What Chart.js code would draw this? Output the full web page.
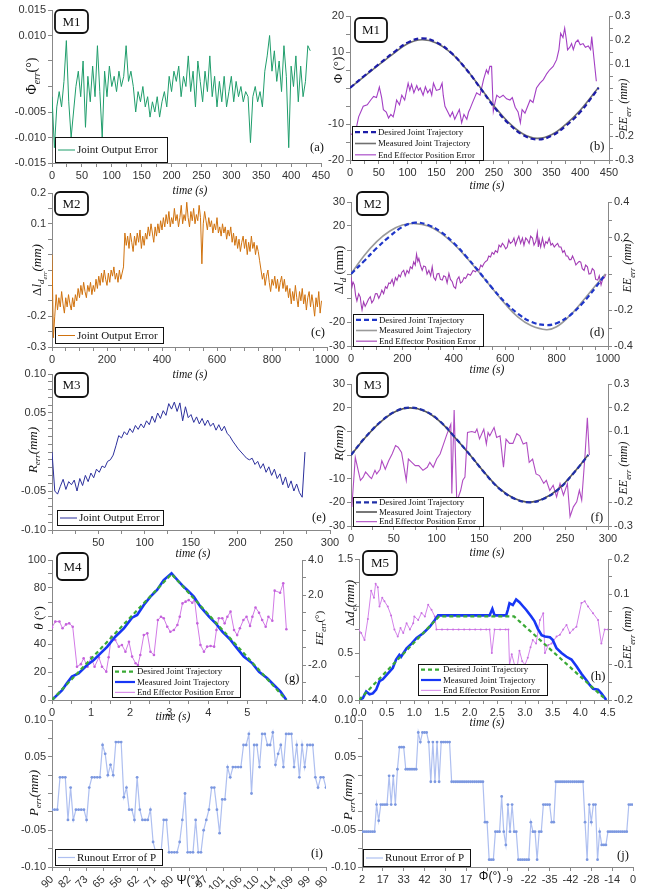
<!DOCTYPE html>
<html>
<head>
<meta charset="utf-8">
<script src="https://cdn.jsdelivr.net/npm/chart.js@4.4.1/dist/chart.umd.min.js"></script>
<style>
html, body { margin: 0; padding: 0; background: #fff; }
body { width: 661px; height: 889px; position: relative; overflow: hidden; }
canvas { position: absolute; }
</style>
</head>
<body>
<script>
// ---- data ----
// (a) M1 joint output error, one value every 4 s
const aStep = 4;
const aVals = [-0.002,-0.012,-0.004,-0.001,-0.004,0.001,0.009,-0.003,-0.010,-0.005,
  0.000,0.003,-0.002,0.005,-0.008,0.002,-0.003,0.004,-0.002,0.008,
  -0.001,-0.010,0.003,-0.002,0.004,0.000,0.002,-0.001,0.003,0.000,
  0.002,0.008,0.001,0.003,0.000,-0.005,-0.001,-0.003,0.000,-0.004,
  -0.002,-0.006,-0.003,-0.005,-0.002,-0.006,-0.003,-0.001,-0.004,0.002,
  -0.001,0.003,0.001,0.004,-0.002,0.002,0.000,0.006,-0.001,0.003,
  -0.004,0.005,0.001,-0.003,0.003,-0.001,0.006,-0.002,0.002,-0.004,
  0.001,-0.003,0.002,-0.004,-0.001,0.002,-0.003,0.001,-0.002,0.000,
  -0.003,-0.001,-0.002,-0.011,-0.002,0.000,-0.003,-0.001,-0.004,0.003,
  0.006,0.010,0.003,0.007,0.001,0.005,-0.001,0.008,0.002,-0.012,
  0.004,0.000,0.006,-0.003,0.004,-0.002,0.001,0.008,0.007];

// (b) M1 trajectories (deg) and end effector error (mm)
const bTime = [0,25,50,75,100,125,150,175,200,225,250,275,300,325,350,375,400,432];
const bDesired = [0,3.4,6.6,9.8,12.6,13.8,12.7,9.9,5.6,0.3,-5.2,-9.8,-13.0,-14.3,-13.3,-10.5,-6.7,0];
const bMeasured = [0,3.2,6.4,9.5,12.3,13.4,12.5,9.8,5.6,0.4,-4.9,-9.5,-12.7,-14.0,-13.0,-10.1,-6.2,0.2];
const bEE = [[1,-0.19],[8,-0.2],[15,-0.12],[23,-0.076],[30,-0.07],[36,-0.05],[41,-0.035],[46,-0.04],[51,0.004],[55,-0.04],
  [58,-0.09],[63,-0.1],[67,-0.125],[71,-0.11],[75,-0.12],[78,-0.09],[81,-0.05],[86,-0.07],[90,-0.03],[95,-0.05],
  [101,0.02],[104,-0.01],[107,0.015],[111,-0.02],[116,0.01],[119,-0.01],[122,0],[127,-0.03],[131,0.005],[135,-0.02],
  [139,-0.005],[142,-0.03],[145,0.02],[150,-0.01],[156,-0.005],[160,0.02],[162,-0.03],[165,-0.076],[170,-0.1],[174,-0.12],
  [178,-0.1],[182,-0.13],[185,-0.115],[190,-0.09],[194,-0.145],[198,-0.11],[203,-0.13],[206,-0.1],[208,-0.09],[213,-0.06],
  [220,-0.02],[226,-0.03],[232,0.035],[237,0.076],[240,0.06],[243,0.09],[246,0.09],[249,-0.097],[252,-0.06],[255,-0.03],
  [260,-0.04],[266,-0.03],[272,-0.045],[278,-0.05],[282,-0.04],[287,-0.08],[292,-0.1],[296,-0.145],[299,-0.09],[304,-0.105],
  [308,-0.08],[313,-0.05],[318,-0.06],[324,0],[330,0.02],[336,0.035],[342,0.06],[347,0.076],[353,0.09],[359,0.118],
  [363,0.16],[366,0.228],[370,0.21],[373,0.249],[376,0.2],[378,0.159],[382,0.17],[385,0.185],[388,0.16],[392,0.19],
  [396,0.2],[400,0.18],[405,0.185],[409,0.17],[414,0.175],[418,0.16],[420,0.214],[424,0.12],[428,0.028]];

// (c) M2 joint output error, one value every 5 s
const cStep = 5;
const cVals = [0.00,-0.27,-0.20,-0.13,-0.18,-0.14,-0.17,-0.12,-0.16,-0.19,
  -0.14,-0.17,-0.13,-0.16,-0.18,-0.14,-0.17,-0.13,-0.15,-0.11,
  -0.14,-0.10,-0.13,-0.09,-0.12,-0.14,-0.10,-0.12,-0.09,-0.13,
  -0.10,-0.12,-0.08,-0.11,-0.07,-0.10,-0.06,-0.09,-0.05,-0.08,
  -0.10,-0.06,-0.09,-0.05,-0.07,-0.04,-0.08,-0.06,-0.09,-0.05,
  -0.08,-0.06,-0.04,0.07,0.03,0.06,0.02,0.07,0.04,0.01,
  0.06,0.03,0.07,0.04,0.08,0.02,0.06,0.03,0.07,0.05,
  0.09,0.06,0.10,0.07,0.04,0.09,0.06,0.10,0.07,0.11,
  0.08,0.12,0.09,0.13,0.10,0.14,0.09,0.12,0.10,0.15,
  0.11,0.13,0.09,0.12,0.16,0.10,0.13,0.11,0.17,0.12,
  0.09,0.14,0.11,0.15,0.10,0.13,0.11,0.16,0.12,-0.03,
  0.10,0.14,0.11,0.08,0.12,0.09,0.11,0.07,0.10,0.08,
  0.12,0.07,0.09,0.06,0.10,0.07,0.09,0.05,0.08,0.06,
  0.09,0.04,0.07,0.03,0.06,0.02,0.05,0.01,0.04,0.06,
  0.02,0.05,0.00,0.04,0.01,0.06,0.02,0.04,0.00,0.03,
  0.01,-0.02,-0.05,-0.08,-0.06,-0.10,-0.07,-0.05,-0.09,-0.12,
  -0.08,-0.10,-0.07,-0.11,-0.08,-0.12,-0.09,-0.07,-0.11,-0.08,
  -0.12,-0.10,-0.14,-0.11,-0.16,-0.12,-0.15,-0.10,-0.14,-0.17,
  -0.12,-0.15,-0.11,-0.16,-0.13,-0.18,-0.14,-0.12,-0.17,-0.13,
  -0.16,-0.20,-0.14,-0.17,-0.12,-0.19,-0.15];

// (d) M2 trajectories (mm) and end effector error (mm)
const dTime = [0,50,100,150,200,250,300,350,400,450,500,550,600,650,700,760,800,850,900,950,990];
const dDesired = [0,5.3,10.8,15.6,19.6,21.4,20.4,17.5,12.9,7.1,0.7,-5.9,-11.8,-16.6,-19.9,-21.3,-20.5,-17.4,-12.3,-5.8,0];
const dMeasured = [0,7.5,13.5,17.8,20.4,21.0,20.0,17.0,12.5,6.8,0.5,-6.0,-12.5,-18.0,-21.5,-23.2,-22.0,-17.5,-11.5,-5.0,0];
const dEE = [[0,-0.016],[4,-0.07],[8,-0.045],[13,-0.06],[18,-0.12],[23,-0.15],[30,-0.11],[36,-0.128],[40,-0.175],[43,-0.2],
  [49,-0.155],[55,-0.18],[62,-0.16],[68,-0.14],[75,-0.126],[81,-0.16],[88,-0.145],[95,-0.11],[101,-0.109],[108,-0.135],
  [114,-0.117],[120,-0.09],[127,-0.109],[134,-0.07],[140,-0.08],[147,-0.05],[153,-0.053],[160,-0.03],[166,-0.062],[173,-0.02],
  [179,-0.035],[186,-0.005],[192,-0.016],[198,0.01],[205,0.02],[211,-0.01],[218,0.02],[225,0.005],[231,0.04],[238,0.03],
  [244,0.067],[250,0.05],[255,0.11],[260,0.07],[264,0.086],[270,0.05],[277,0.02],[283,0.045],[290,0.04],[296,0],
  [303,0.02],[310,-0.01],[316,0.04],[322,-0.02],[329,-0.034],[335,0],[342,0.003],[348,-0.03],[355,-0.034],[361,-0.01],
  [368,-0.016],[374,-0.05],[381,0.003],[387,-0.03],[394,-0.043],[400,-0.07],[407,-0.08],[413,-0.03],[420,-0.016],[426,-0.05],
  [433,-0.043],[440,-0.02],[446,-0.025],[455,0],[465,-0.007],[475,0.02],[485,0.012],[492,0.03],[498,0.02],[505,0.05],
  [511,0.04],[518,0.06],[524,0.07],[530,0.075],[536,0.1],[543,0.095],[549,0.12],[556,0.11],[562,0.13],[570,0.12],
  [576,0.16],[583,0.15],[589,0.17],[595,0.16],[602,0.14],[608,0.15],[614,0.19],[620,0.17],[628,0.18],[634,0.2],
  [640,0.16],[647,0.19],[653,0.21],[660,0.17],[667,0.2],[673,0.16],[680,0.2],[686,0.19],[693,0.17],[699,0.21],
  [706,0.2],[712,0.16],[719,0.18],[725,0.23],[729,0.15],[732,0.19],[738,0.15],[745,0.2],[752,0.15],[758,0.18],
  [764,0.17],[771,0.2],[778,0.16],[784,0.17],[791,0.15],[797,0.16],[804,0.17],[810,0.15],[817,0.15],[824,0.12],
  [830,0.13],[837,0.1],[843,0.1],[850,0.08],[856,0.08],[862,0.1],[869,0.077],[875,0.05],[881,0.06],[888,0.07],
  [894,0.066],[900,0.03],[907,0.02],[913,0.05],[920,0.04],[926,0],[933,0.003],[939,0.03],[946,0.02],[952,-0.03],
  [960,-0.034],[966,-0.01],[973,-0.06],[979,-0.03],[986,-0.02],[992,0]];

// (e) M3 joint output error, one value every 3 s
const eStep = 3;
const eVals = [0.000,-0.050,-0.054,-0.044,-0.035,-0.048,-0.038,-0.042,-0.036,-0.050,
  -0.034,-0.043,-0.030,-0.038,-0.027,-0.033,-0.022,-0.026,-0.018,-0.020,
  -0.012,-0.010,-0.004,0.008,0.021,0.018,0.026,0.022,0.030,0.025,
  0.034,0.029,0.036,0.031,0.040,0.035,0.046,0.038,0.050,0.043,
  0.053,0.047,0.062,0.055,0.064,0.052,0.063,0.040,0.058,0.044,
  0.048,0.038,0.045,0.036,0.043,0.034,0.041,0.033,0.037,0.028,
  0.035,0.027,0.033,0.024,0.020,0.014,0.009,0.004,0.000,-0.004,
  -0.008,-0.010,-0.008,-0.016,-0.012,-0.021,-0.015,-0.026,-0.019,-0.030,
  -0.022,-0.034,-0.028,-0.042,-0.032,-0.046,-0.037,-0.050,-0.041,-0.052,
  -0.058,0.000];

// (f) M3 trajectories (mm) and end effector error (mm)
const fTime = [0,17,35,52,69,87,104,121,139,156,173,191,208,225,243,260,277];
const fDesired = [0,7.6,14.2,18.5,20,18.5,14.2,7.6,0,-7.6,-14.2,-18.5,-20,-18.5,-14.2,-7.6,0];
const fMeasured = [0,7.5,14.1,18.4,19.9,18.4,14.1,7.5,0,-7.5,-14.1,-18.4,-19.9,-18.4,-14.1,-7.5,0.1];
const fEE = [[1,-0.22],[5,-0.01],[11,-0.107],[14,-0.095],[17,-0.072],[19,-0.08],[22,-0.093],[24,-0.1],[28,-0.065],[30,-0.08],
  [34,-0.06],[36,-0.024],[40,-0.06],[44,-0.024],[48,0.004],[52,0.04],[55,0.033],[59,0.011],[64.5,-0.107],[67,-0.017],
  [71,-0.031],[75,-0.045],[79,-0.045],[84,-0.065],[89,-0.052],[92,-0.031],[96,-0.052],[100,-0.017],[104,0.004],[108,0.046],
  [112,0.088],[116.5,0.13],[117.7,-0.163],[120.4,0.19],[123.5,-0.2],[125.4,-0.177],[128,-0.15],[130.5,-0.107],[133,-0.093],[136,0.095],
  [141,0.099],[145,0.095],[147,0.11],[150,0.068],[155,0.109],[158,0.046],[160,0.095],[162,0.081],[167,0.116],[170,0.074],
  [174,0.081],[178,-0.052],[181,0.067],[185,0.049],[189,0.049],[193.5,0.09],[197,0.081],[201,0.046],[205,0.053],[208,-0.031],
  [212,-0.017],[216,-0.08],[220,-0.087],[225,-0.12],[228,-0.107],[232,-0.15],[236,-0.128],[240,-0.177],[244,-0.121],[248,-0.17],
  [252.6,-0.121],[255.7,-0.26],[259.6,-0.219],[263.5,-0.198],[266.6,-0.149],[269.3,-0.191],[273.2,0],[275.9,0.157],[278.2,0]];

// (g) M4 trajectories (deg) and end effector error (deg)
const gDesired = [[0,0],[3.06,90],[6.0,0]];
const gMeasured = [[0,0],[0.26,7.1],[0.38,11.9],[0.51,16.7],[0.68,19],[0.9,25],[1.07,28.6],[1.24,33.3],[1.41,38],[1.62,45.2],
  [1.84,51.2],[2.05,58.8],[2.18,60.7],[2.35,67.9],[2.52,73.8],[2.69,78.6],[2.86,85.7],[3.06,90.5],[3.21,85.7],[3.33,82],
  [3.46,78.6],[3.63,73.8],[3.8,66.7],[4.02,59.5],[4.19,54.8],[4.36,48.8],[4.57,42.9],[4.74,36.9],[4.91,31],[5.13,26.2],
  [5.3,20.2],[5.51,15.5],[5.68,10.7],[5.85,6],[6.0,0]];
const gEE = [[0,0.15],[0.085,0.48],[0.19,0.48],[0.27,0.1],[0.36,0.32],[0.44,0.38],[0.53,0.19],[0.64,-2.1],[0.74,-1.95],[0.81,-1.62],
  [0.91,-2.1],[1.0,-1.56],[1.09,-2.1],[1.2,-1.56],[1.28,-2.1],[1.39,-2.38],[1.45,-1.56],[1.52,-0.38],[1.62,-0.57],[1.71,-0.95],
  [1.79,-0.86],[1.88,-1.24],[1.97,-0.67],[2.05,-1.52],[2.14,-1.9],[2.2,-2.0],[2.26,-1.43],[2.35,-0.29],[2.44,-0.19],[2.52,-1.24],
  [2.61,-1.43],[2.71,0.57],[2.79,0.76],[2.86,0.67],[2.95,0.19],[3.03,-0.1],[3.12,0],[3.21,0.29],[3.27,0.76],[3.34,1.52],
  [3.42,1.62],[3.5,1.71],[3.59,1.56],[3.65,1.71],[3.72,0.38],[3.8,-0.86],[3.89,-1.24],[3.97,-0.95],[4.06,-0.91],[4.15,-0.95],
  [4.21,0],[4.27,0.67],[4.36,0.67],[4.42,0.38],[4.49,0.76],[4.57,1.05],[4.66,0],[4.74,-0.29],[4.81,0.1],[4.9,0.57],
  [4.98,0.76],[5.07,0.23],[5.13,0.76],[5.21,1.29],[5.3,0.99],[5.38,0.57],[5.47,0.19],[5.54,0.76],[5.64,0.53],[5.7,2.25],
  [5.84,2.13],[5.92,2.67],[6.0,0.04]];

// (h) M5 trajectories (mm) and end effector error (mm)
const hDesired = [[0,0],[1.45,0.89],[2.8,0.89],[4.47,0]];
const hMeasured = [[0,0],[0.07,0.02],[0.13,0.09],[0.19,0.06],[0.25,0.07],[0.31,0.11],[0.37,0.2],[0.43,0.22],[0.52,0.28],[0.61,0.34],
  [0.67,0.43],[0.73,0.48],[0.76,0.46],[0.86,0.55],[0.95,0.6],[1.04,0.66],[1.16,0.71],[1.28,0.78],[1.37,0.85],[1.43,0.9],
  [2.36,0.9],[2.41,0.97],[2.45,0.9],[2.66,0.9],[2.69,0.96],[2.72,1.03],[2.78,1.01],[2.84,1.07],[2.9,1.04],[2.96,1.0],
  [3.02,0.96],[3.11,0.89],[3.17,0.84],[3.23,0.76],[3.3,0.69],[3.36,0.675],[3.45,0.668],[3.5,0.64],[3.57,0.55],[3.66,0.5],
  [3.75,0.46],[3.84,0.43],[3.93,0.36],[4.02,0.28],[4.11,0.21],[4.17,0.16],[4.23,0.12],[4.32,0.11],[4.38,0.07],[4.47,0]];
const hEE = [[0,-0.001],[0.04,-0.01],[0.1,-0.03],[0.16,0.03],[0.22,0.11],[0.27,0.09],[0.3,0.13],[0.34,0.12],[0.37,0.065],[0.42,0.09],
  [0.46,0.08],[0.52,0.065],[0.58,0.04],[0.64,0],[0.7,-0.02],[0.75,0.004],[0.8,-0.01],[0.86,0.018],[0.92,0],[0.98,0.018],
  [1.0,0.037],[1.07,0.027],[1.13,0.047],[1.19,0.037],[1.25,0.07],[1.31,0.056],[1.37,0.037],[1.4,0],[1.5,0],[1.6,0],
  [1.7,0],[1.8,0],[1.9,0],[2.0,0],[2.1,0],[2.2,0],[2.3,0],[2.36,0],[2.4,-0.067],[2.45,0],
  [2.55,0],[2.65,0],[2.7,0],[2.72,-0.1],[2.76,-0.07],[2.81,-0.1],[2.86,-0.105],[2.9,-0.06],[2.95,-0.09],[3.0,-0.1],
  [3.05,-0.08],[3.1,-0.05],[3.14,-0.03],[3.2,-0.04],[3.27,0.027],[3.33,0.046],[3.36,-0.067],[3.42,-0.044],[3.48,-0.04],[3.57,-0.02],
  [3.63,-0.015],[3.69,0],[3.75,0.013],[3.81,-0.01],[3.87,0],[3.93,0.008],[4.02,0.075],[4.08,0.08],[4.14,0.065],[4.23,0.046],
  [4.32,0.027],[4.38,-0.04],[4.44,0],[4.5,0]];

// (i) runout error of P vs psi (evenly spaced samples over 16 label intervals)
const iLabels = ['90','82','73','65','56','62','71','80','','97','101','106','110','114','109','99','90'];
const iVals = [-0.022,-0.022,-0.022,0.022,0.022,0.022,-0.036,0.008,-0.036,-0.022,
  -0.022,-0.022,-0.022,-0.036,0.008,0.022,0.022,0.022,0.022,0.066,
  0.054,0.025,0.039,0.025,0.07,0.07,0.07,-0.005,0.008,-0.022,
  -0.022,-0.036,0.022,-0.022,-0.036,-0.036,-0.036,-0.022,-0.066,-0.08,
  -0.08,-0.08,-0.036,-0.036,-0.08,-0.08,-0.08,-0.08,-0.066,-0.036,
  0,-0.08,-0.08,-0.08,-0.036,-0.08,-0.08,-0.05,-0.036,-0.022,
  0.008,0.008,-0.022,-0.054,-0.008,-0.008,0.036,0.022,0.036,0.036,
  0.036,0.036,0.066,0.066,0.081,0,0.066,0.066,0.036,0.081,
  0.081,0.066,0.066,0.083,0.039,0.054,0.066,0.036,0.081,0.081,
  0.081,0.036,0.066,0.022,0.066,0.036,0.066,0.066,0.066,0.022,
  0.008,0.022,0.022,0.008];

// (j) runout error of P vs phi, one sample every 0.1 label interval
const jLabels = ['2','17','33','42','30','17','','-9','-22','-35','-42','-28','-14','0'];
const jStep = 0.1;
const jVals = [-0.052,-0.052,-0.052,-0.052,-0.052,-0.052,-0.052,-0.015,-0.037,-0.015,
  -0.015,-0.015,-0.015,0.024,-0.015,0.024,-0.015,0.033,0.063,0.063,
  0.063,0.033,0.033,0.033,0.033,0.033,0.033,0.083,0.07,0.083,
  0.083,0.083,0.07,0.016,0.07,0.016,0.07,0.016,0.07,0.07,
  0.07,0.07,0.07,0.016,0.016,0.016,0.016,0.016,0.016,0.016,
  0.016,0.016,0.016,0.016,0.016,0.016,0.016,0.016,0.016,-0.039,
  -0.039,-0.09,-0.09,-0.09,-0.052,-0.052,-0.052,-0.004,-0.052,-0.07,
  -0.015,-0.052,-0.015,-0.052,-0.052,-0.09,-0.09,-0.09,-0.09,-0.09,
  -0.09,-0.039,-0.052,-0.052,-0.09,-0.052,-0.052,-0.015,-0.015,-0.015,
  -0.015,-0.039,-0.039,0.016,0.016,0.016,0.016,0.016,0.016,0.016,
  0.016,0.016,0.016,0.016,0.016,0.016,0.016,-0.039,-0.09,-0.015,
  -0.039,-0.015,-0.015,-0.09,-0.052,-0.07,-0.07,-0.07,-0.052,-0.052,
  -0.052,-0.052,-0.052,-0.052,-0.052,-0.052,-0.052,-0.052,-0.015,-0.015,
  -0.015];

// ---- helpers ----
const SERIF = '"Liberation Serif", "Times New Roman", serif';
const SANS = '"Liberation Sans", Arial, sans-serif';
const ML = 50, MR = 46, MT = 14, MB = 42;

const pairs = arr => arr.map(([x, y]) => ({ x, y }));
const zip = (xs, ys) => xs.map((x, i) => ({ x, y: ys[i] }));
const stepped = (vals, step) => vals.map((v, i) => ({ x: i * step, y: v }));

function fmt(v, d) { return (Math.abs(v) < 1e-9 ? 0 : v).toFixed(d); }
function has(list, v, step) { return list.some(l => Math.abs(l - v) < step * 0.01); }

function yAxis(pos, min, max, step, labels, digits) {
  return {
    type: 'linear', position: pos, min, max,
    ticks: { stepSize: step, autoSkip: false, padding: 2, color: '#333', font: { family: SANS, size: 11 },
      callback: v => has(labels, v, step) ? fmt(v, digits) : '' },
    grid: { drawOnChartArea: false, tickLength: 4, color: '#888' },
    border: { color: '#888' },
    afterFit: s => { s.width = pos === 'left' ? ML : MR; }
  };
}
function xAxis(min, max, step, labels, digits, names, rot) {
  return {
    type: 'linear', position: 'bottom', min, max,
    ticks: { stepSize: step, autoSkip: false, padding: 2, color: '#333', font: { family: SANS, size: 11 },
      minRotation: rot || 0, maxRotation: rot || 0,
      callback: v => names ? (names[Math.round(v)] || '') : (has(labels, v, step) ? fmt(v, digits) : '') },
    grid: { drawOnChartArea: false, tickLength: 4, color: '#888' },
    border: { color: '#888' },
    afterFit: s => { s.height = MB; }
  };
}
function line(data, color, width, extra) {
  return Object.assign({ data, borderColor: color, backgroundColor: color, borderWidth: width,
    pointRadius: 0, fill: false, tension: 0 }, extra || {});
}

function rich(c, T) {
  const size = T.size || 13, fam = T.fam || SERIF;
  const segs = T.parts.map(([s, k]) => {
    const sz = k === 's' ? size * 0.68 : k === 'ss' ? size * 0.5 : size;
    const it = k === 'i' || k === 's' || k === 'ss';
    const dy = k === 's' ? size * 0.3 : k === 'ss' ? size * 0.5 : 0;
    return { s, font: (it ? 'italic ' : '') + sz + 'px ' + fam, dy };
  });
  let w = 0;
  segs.forEach(g => { c.font = g.font; g.w = c.measureText(g.s).width; w += g.w; });
  c.save();
  c.translate(T.x, T.y);
  if (T.rot) c.rotate(-Math.PI / 2);
  c.fillStyle = '#111';
  c.textBaseline = 'alphabetic';
  c.textAlign = 'left';
  let x = -w / 2;
  segs.forEach(g => { c.font = g.font; c.fillText(g.s, x, size * 0.35 + g.dy); x += g.w; });
  c.restore();
}

const overlay = {
  id: 'overlay',
  afterDraw(chart) {
    const cv = chart.canvas, p = cv._spec, c = chart.ctx;
    c.save();
    c.translate(-cv._off[0], -cv._off[1]);
    (p.titles || []).forEach(t => rich(c, t));
    if (p.mbox) {
      const [x, y, w, h, txt] = p.mbox;
      c.beginPath(); c.roundRect(x, y, w, h, 5);
      c.fillStyle = '#fff'; c.fill();
      c.lineWidth = 1.8; c.strokeStyle = '#111'; c.stroke();
      c.fillStyle = '#111'; c.font = '13px ' + SERIF; c.textAlign = 'center'; c.textBaseline = 'middle';
      c.fillText(txt, x + w / 2, y + h / 2 + 1);
    }
    if (p.letter) {
      c.fillStyle = '#111'; c.font = '12.5px ' + SERIF; c.textAlign = 'center'; c.textBaseline = 'middle';
      c.fillText(p.letter[0], p.letter[1], p.letter[2]);
    }
    if (p.legend) {
      const L = p.legend;
      c.fillStyle = '#fff'; c.fillRect(L.x, L.y, L.w, L.h);
      c.strokeStyle = '#111'; c.lineWidth = 1; c.strokeRect(L.x + 0.5, L.y + 0.5, L.w, L.h);
      L.rows.forEach((row, i) => {
        const ds = chart.data.datasets[row[0]];
        const yy = L.y + 0.5 + L.h / L.rows.length * (i + 0.5);
        c.beginPath(); c.setLineDash(ds.borderDash || []);
        c.strokeStyle = ds.borderColor; c.lineWidth = Math.min(ds.borderWidth, 2.2);
        c.moveTo(L.x + 3, yy); c.lineTo(L.x + 3 + L.ln, yy); c.stroke(); c.setLineDash([]);
        c.fillStyle = '#111'; c.font = L.fs + 'px ' + SERIF; c.textAlign = 'left'; c.textBaseline = 'middle';
        c.fillText(row[1], L.x + 5 + L.ln, yy + 0.5);
      });
    }
    c.restore();
  }
};

function build(p) {
  const [l, t, r, b] = p.box;
  const cx = Math.round(l - ML), cy = Math.round(t - MT);
  const w = Math.round(r - l) + ML + MR, h = Math.round(b - t) + MT + MB;
  const cv = document.createElement('canvas');
  cv.width = w; cv.height = h;
  cv.style.left = cx + 'px'; cv.style.top = cy + 'px';
  cv.style.width = w + 'px'; cv.style.height = h + 'px';
  document.body.appendChild(cv);
  cv._spec = p; cv._off = [cx, cy];
  const scales = { x: p.x, y: p.y };
  if (p.y2) scales.y2 = p.y2;
  new Chart(cv, {
    type: 'line',
    data: { datasets: p.datasets },
    options: {
      responsive: false, animation: false, devicePixelRatio: 1,
      layout: { padding: { left: 0, top: MT, right: p.y2 ? 0 : MR, bottom: 0 } },
      plugins: { legend: { display: false }, tooltip: { enabled: false } },
      scales
    },
    plugins: [overlay]
  });
}

const EE = [['EE', 'i'], ['err', 's'], [' (mm)', 'i']];
const TIME = [['time (s)', 'i']];
const trio = ['Desired Joint Trajectory', 'Measured Joint Trajectory', 'End Effector Position Error'];

// (a)
build({
  box: [52, 10, 321, 163],
  x: xAxis(0, 450, 25, [0, 50, 100, 150, 200, 250, 300, 350, 400, 450], 0),
  y: yAxis('left', -0.015, 0.015, 0.005, [0.015, 0.01, -0.005, -0.01, -0.015], 3),
  datasets: [line(stepped(aVals, aStep), '#1f9d6b', 1)],
  titles: [{ parts: [['Φ', 'n'], ['err', 's'], ['(°)', 'n']], x: 31, y: 76, rot: true, size: 14 },
           { parts: TIME, x: 190, y: 190, size: 11.5 }],
  mbox: [55, 10, 33, 23, 'M1'], letter: ['(a)', 317, 148],
  legend: { x: 55, y: 137, w: 112, h: 25, fs: 11, ln: 17, rows: [[0, 'Joint Output Error']] }
});

// (b)
build({
  box: [350, 16, 609, 160],
  x: xAxis(0, 450, 25, [0, 50, 100, 150, 200, 250, 300, 350, 400, 450], 0),
  y: yAxis('left', -20, 20, 5, [20, 10, -10, -20], 0),
  y2: yAxis('right', -0.3, 0.3, 0.05, [0.3, 0.2, 0.1, -0.2, -0.3], 1),
  datasets: [
    line(zip(bTime, bDesired), '#1c1ca8', 2.2, { borderDash: [5, 3], tension: 0.4, order: 0 }),
    line(zip(bTime, bMeasured), '#707070', 1.6, { tension: 0.4, order: 1 }),
    line(pairs(bEE), '#a33fc4', 1.1, { yAxisID: 'y2', order: 2 })],
  titles: [{ parts: [['Φ', 'n'], [' (°)', 'n']], x: 337, y: 70, rot: true, size: 13 },
           { parts: EE, x: 623, y: 105, rot: true, size: 12 },
           { parts: TIME, x: 487, y: 185, size: 11.5 }],
  mbox: [355, 18, 32, 24, 'M1'], letter: ['(b)', 597, 147],
  legend: { x: 352, y: 126, w: 131, h: 34, fs: 8.8, ln: 21, rows: [[0, trio[0]], [1, trio[1]], [2, trio[2]]] }
});

// (c)
build({
  box: [52, 192.7, 326.7, 346.5],
  x: xAxis(0, 1000, 50, [0, 200, 400, 600, 800, 1000], 0),
  y: yAxis('left', -0.3, 0.2, 0.05, [0.2, 0.1, -0.2, -0.3], 1),
  datasets: [line(stepped(cVals, cStep), '#d0720e', 1)],
  titles: [{ parts: [['Δ', 'n'], ['l', 'i'], ['d', 's'], ['err', 'ss'], ['(mm)', 'i']], x: 36, y: 270, rot: true, size: 13 },
           { parts: TIME, x: 190, y: 374, size: 11.5 }],
  mbox: [55, 192, 33, 23, 'M2'], letter: ['(c)', 318, 333],
  legend: { x: 55, y: 327, w: 108, h: 16, fs: 11, ln: 17, rows: [[0, 'Joint Output Error']] }
});

// (d)
build({
  box: [350.7, 201.7, 608, 346],
  x: xAxis(0, 1000, 50, [0, 200, 400, 600, 800, 1000], 0),
  y: yAxis('left', -30, 30, 10, [30, 20, -20, -30], 0),
  y2: yAxis('right', -0.4, 0.4, 0.1, [0.4, 0.2, -0.2, -0.4], 1),
  datasets: [
    line(zip(dTime, dDesired), '#1f36c8', 2.2, { borderDash: [5, 3], tension: 0.4, order: 0 }),
    line(zip(dTime, dMeasured), '#9a9a9a', 1.6, { tension: 0.4, order: 1 }),
    line(pairs(dEE), '#a23cb4', 1.1, { yAxisID: 'y2', order: 2 })],
  titles: [{ parts: [['Δ', 'n'], ['l', 'i'], ['d', 's'], [' (mm)', 'n']], x: 338, y: 270, rot: true, size: 13 },
           { parts: EE, x: 627, y: 266, rot: true, size: 12 },
           { parts: TIME, x: 487, y: 369, size: 11.5 }],
  mbox: [357, 192, 31, 23, 'M2'], letter: ['(d)', 597, 333],
  legend: { x: 353, y: 314, w: 130, h: 32, fs: 8.8, ln: 21, rows: [[0, trio[0]], [1, trio[1]], [2, trio[2]]] }
});

// (e)
build({
  box: [52, 374.3, 330, 530.5],
  x: xAxis(0, 300, 25, [50, 100, 150, 200, 250, 300], 0),
  y: yAxis('left', -0.1, 0.1, 0.01, [0.1, 0.05, -0.05, -0.1], 2),
  datasets: [line(stepped(eVals, eStep), '#2b2f9c', 1)],
  titles: [{ parts: [['R', 'i'], ['err', 's'], ['(mm)', 'i']], x: 32, y: 450, rot: true, size: 13 },
           { parts: TIME, x: 193, y: 553, size: 11.5 }],
  mbox: [55, 373, 33, 24, 'M3'], letter: ['(e)', 319, 518],
  legend: { x: 57, y: 510, w: 106, h: 15, fs: 11, ln: 17, rows: [[0, 'Joint Output Error']] }
});

// (f)
build({
  box: [350.7, 384.3, 608, 526],
  x: xAxis(0, 300, 25, [0, 50, 100, 150, 200, 250, 300], 0),
  y: yAxis('left', -30, 30, 10, [30, 20, -10, -20, -30], 0),
  y2: yAxis('right', -0.3, 0.3, 0.1, [0.3, 0.2, 0.1, -0.2, -0.3], 1),
  datasets: [
    line(zip(fTime, fDesired), '#1f2fa8', 2.2, { borderDash: [5, 3], tension: 0.4, order: 0 }),
    line(zip(fTime, fMeasured), '#555555', 1.6, { tension: 0.4, order: 1 }),
    line(pairs(fEE), '#b04cc2', 1.1, { yAxisID: 'y2', order: 2 })],
  titles: [{ parts: [['R', 'i'], ['(mm)', 'i']], x: 338, y: 443, rot: true, size: 13 },
           { parts: EE, x: 623, y: 468, rot: true, size: 12 },
           { parts: TIME, x: 487, y: 552, size: 11.5 }],
  mbox: [357, 373, 31, 24, 'M3'], letter: ['(f)', 597, 518],
  legend: { x: 353, y: 497, w: 130, h: 29, fs: 8.8, ln: 21, rows: [[0, trio[0]], [1, trio[1]], [2, trio[2]]] }
});

// (g)
build({
  box: [51.7, 560, 301.7, 700],
  x: xAxis(0, 6.4, 0.5, [0, 1, 2, 3, 4, 5, 6], 0),
  y: yAxis('left', 0, 100, 10, [0, 20, 40, 80, 100], 0),
  y2: yAxis('right', -4, 4, 1, [4, 2, -2, -4], 1),
  datasets: [
    line(pairs(gDesired), '#3aa935', 2.2, { borderDash: [4, 3], order: 0 }),
    line(pairs(gMeasured), '#1736f5', 2.6, { order: 1 }),
    line(pairs(gEE), '#d27ae6', 1, { yAxisID: 'y2', order: 2, pointRadius: 1.3, pointBorderWidth: 0, pointBackgroundColor: '#c462dc' })],
  titles: [{ parts: [['θ', 'i'], [' (°)', 'n']], x: 38, y: 618, rot: true, size: 13 },
           { parts: [['EE', 'i'], ['err', 's'], ['(°)', 'n']], x: 319, y: 628, rot: true, size: 11 },
           { parts: TIME, x: 173, y: 716, size: 11.5 }],
  mbox: [57, 553, 31, 27, 'M4'], letter: ['(g)', 292, 679],
  legend: { x: 112, y: 666, w: 128, h: 31, fs: 8.8, ln: 20, rows: [[0, trio[0]], [1, trio[1]], [2, trio[2]]] }
});

// (h)
build({
  box: [359.3, 559.3, 608.3, 700],
  x: xAxis(0, 4.5, 0.25, [0, 0.5, 1, 1.5, 2, 2.5, 3, 3.5, 4, 4.5], 1),
  y: yAxis('left', 0, 1.5, 0.25, [1.5, 0.5, 0], 1),
  y2: yAxis('right', -0.2, 0.2, 0.05, [0.2, 0.1, -0.1, -0.2], 1),
  datasets: [
    line(pairs(hDesired), '#3aa935', 2.2, { borderDash: [4, 3], order: 0 }),
    line(pairs(hMeasured), '#1736f5', 2.6, { order: 1 }),
    line(pairs(hEE), '#d484ea', 1, { yAxisID: 'y2', order: 2, pointRadius: 1, pointBorderWidth: 0, pointBackgroundColor: '#c870e0' })],
  titles: [{ parts: [['Δ', 'n'], ['d', 'i'], ['e', 's'], ['(mm)', 'i']], x: 349, y: 603, rot: true, size: 13 },
           { parts: EE, x: 627, y: 633, rot: true, size: 12 },
           { parts: TIME, x: 487, y: 722, size: 11.5 }],
  mbox: [363, 551, 34, 24, 'M5'], letter: ['(h)', 598, 677],
  legend: { x: 418, y: 664, w: 129, h: 31, fs: 8.8, ln: 20, rows: [[0, trio[0]], [1, trio[1]], [2, trio[2]]] }
});

// (i)
build({
  box: [51.7, 720, 326, 866.7],
  x: xAxis(0, 16, 1, null, 0, iLabels, 45),
  y: yAxis('left', -0.1, 0.1, 0.025, [0.1, 0.05, -0.05, -0.1], 2),
  datasets: [line(stepped(iVals, 16 / (iVals.length - 1)), '#aebff0', 1.2,
    { pointRadius: 1.4, pointBorderWidth: 0, pointBackgroundColor: '#7c98e0' })],
  titles: [{ parts: [['P', 'i'], ['err', 's'], ['(mm)', 'i']], x: 33, y: 793, rot: true, size: 13 },
           { parts: [['Ψ(°)', 'n']], x: 188, y: 880, size: 12, fam: SANS }],
  letter: ['(i)', 317, 854],
  legend: { x: 55, y: 849, w: 107, h: 16, fs: 11, ln: 17, rows: [[0, 'Runout Error of P']] }
});

// (j)
build({
  box: [362.3, 720, 633.3, 866.7],
  x: xAxis(0, 13, 1, null, 0, jLabels, 0),
  y: yAxis('left', -0.1, 0.1, 0.025, [0.1, 0.05, -0.05, -0.1], 2),
  datasets: [line(stepped(jVals, jStep), '#aebff0', 1.2,
    { pointRadius: 1.4, pointBorderWidth: 0, pointBackgroundColor: '#7c98e0' })],
  titles: [{ parts: [['P', 'i'], ['err', 's'], ['(mm)', 'i']], x: 347, y: 797, rot: true, size: 13 },
           { parts: [['Φ(°)', 'n']], x: 490, y: 876, size: 12, fam: SANS }],
  letter: ['(j)', 623, 856],
  legend: { x: 363, y: 849, w: 107, h: 17, fs: 11, ln: 17, rows: [[0, 'Runout Error of P']] }
});
</script>
</body>
</html>
